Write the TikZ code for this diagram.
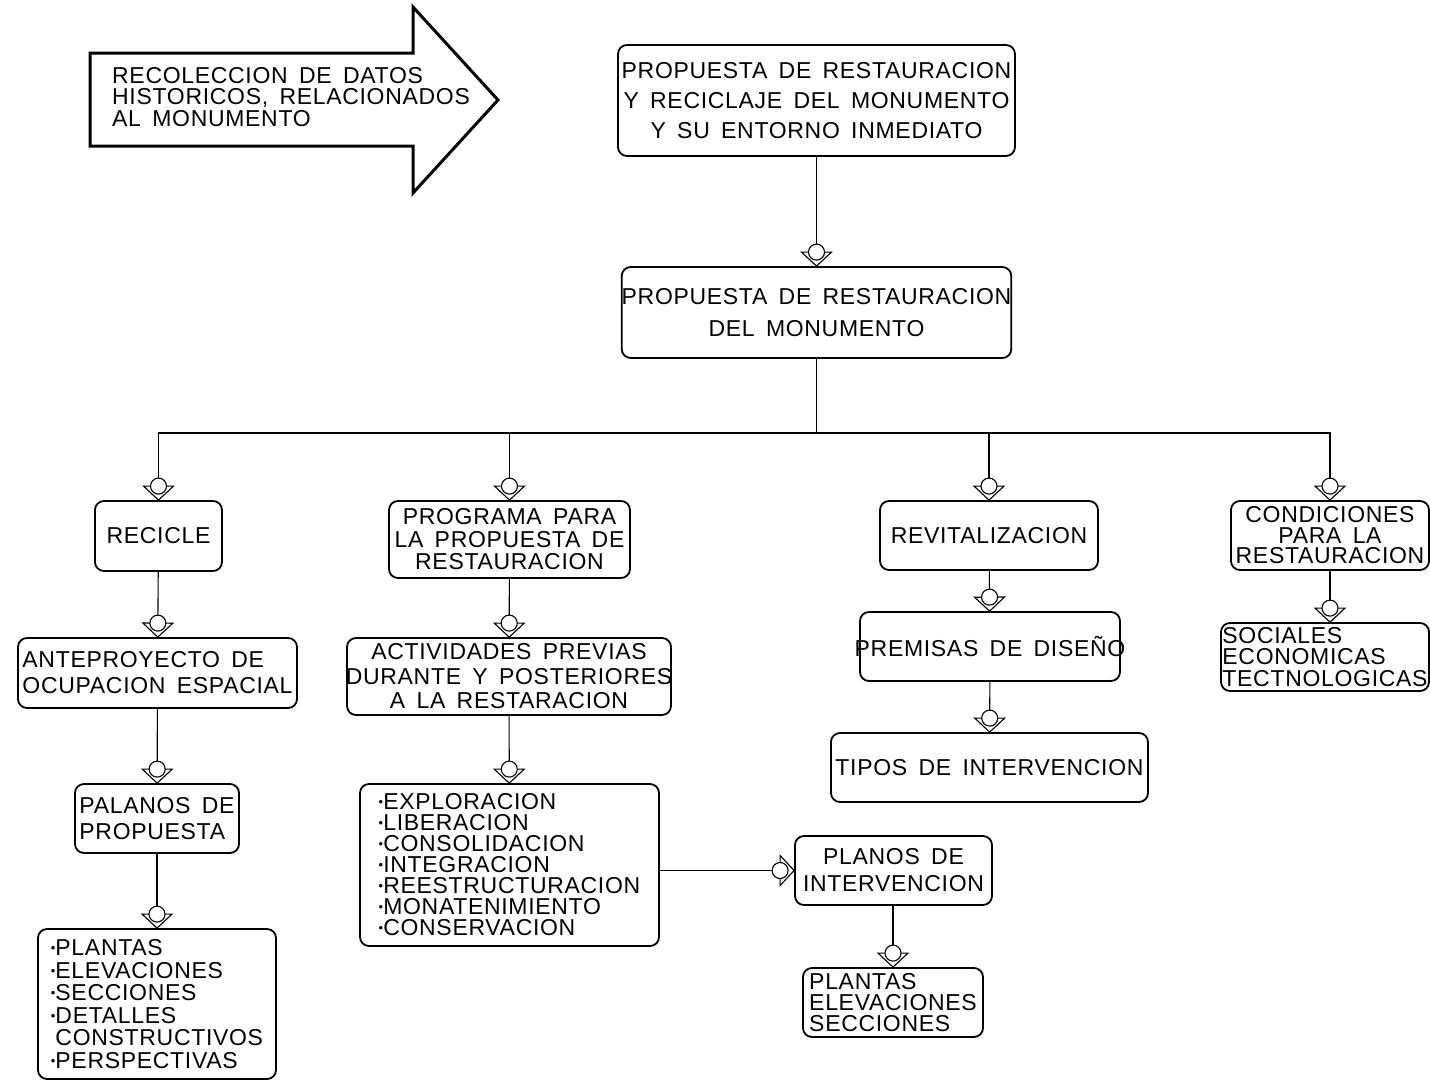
\documentclass[tikz,border=0pt]{standalone}
\usepackage{fontspec}
\setmainfont{Liberation Sans}[WordSpace=1.6,LetterSpace=3]
\newcommand{\vineta}{\raisebox{3pt}{\fontsize{13}{13}\selectfont\textbullet}}
\pgfdeclarearrow{
  name = cadtip,
  setup code = {
    \pgfarrowssettipend{0pt}
    \pgfarrowssetlineend{-22pt}
    \pgfarrowssetvisualbackend{-22pt}
    \pgfarrowssetbackend{-22pt}
    \pgfarrowsupperhullpoint{0pt}{0pt}
    \pgfarrowsupperhullpoint{-14pt}{15pt}
    \pgfarrowsupperhullpoint{-22pt}{8pt}
  },
  drawing code = {
    \pgfsetdash{}{0pt}
    \pgfsetmiterjoin
    \pgfpathmoveto{\pgfpointorigin}
    \pgfpathlineto{\pgfpoint{-14pt}{15pt}}
    \pgfpathlineto{\pgfpoint{-14pt}{-15pt}}
    \pgfpathclose
    \pgfusepathqstroke
    \pgfsetfillcolor{white}
    \pgfpathcircle{\pgfpoint{-14pt}{0pt}}{8pt}
    \pgfusepathqfillstroke
  }
}
\begin{document}
\begin{tikzpicture}[x=1pt,y=-1pt,
    caja/.style={draw, line width=1.8pt, rounded corners=9pt, inner sep=0pt, align=center},
    texto/.style={font=\fontsize{23}{#1}\selectfont},
    flecha/.style={line width=1.1pt, -cadtip}]
  \useasboundingbox (0,0) rectangle (1430,1080);

  % Flecha grande de datos
  \draw[line width=3pt, line join=miter] (90,53) -- (413,53) -- (413,7) -- (498,100)
    -- (413,193) -- (413,146) -- (90,146) -- cycle;
  \node[anchor=west, align=left, inner sep=0pt, texto=21.5] (datos) at (112,97)
    {RECOLECCION DE DATOS\\HISTORICOS, RELACIONADOS\\AL MONUMENTO};

  % Cajas
  \node[caja, texto=30, minimum width=397, minimum height=111] (propuesta) at (816.5,100.5)
    {PROPUESTA DE RESTAURACION\\Y RECICLAJE DEL MONUMENTO\\Y SU ENTORNO INMEDIATO};
  \node[caja, texto=32, minimum width=389, minimum height=91] (restaura) at (816.5,312.5)
    {PROPUESTA DE RESTAURACION\\DEL MONUMENTO};

  \node[caja, texto=26, minimum width=127, minimum height=70] (recicle) at (158.5,536) {RECICLE};
  \node[caja, texto=22.5, minimum width=241, minimum height=77] (programa) at (509.5,539.5)
    {PROGRAMA PARA\\LA PROPUESTA DE\\RESTAURACION};
  \node[caja, texto=26, minimum width=218, minimum height=69] (revital) at (989,535.5) {REVITALIZACION};
  \node[caja, texto=20.5, minimum width=198, minimum height=69] (condic) at (1330,535.5)
    {CONDICIONES\\PARA LA\\RESTAURACION};

  \node[caja, align=left, texto=26, minimum width=279, minimum height=70] (antepro) at (157.5,673)
    {ANTEPROYECTO DE\\OCUPACION ESPACIAL};
  \node[caja, texto=24.5, minimum width=324, minimum height=77, inner xsep=-2pt] (activ) at (509,676.5)
    {ACTIVIDADES PREVIAS\\DURANTE Y POSTERIORES\\A LA RESTARACION};
  \node[caja, texto=26, minimum width=260, minimum height=69, inner xsep=-6pt] (premisas) at (990,646.5)
    {PREMISAS DE DISEÑO};
  \node[caja, align=left, texto=21.5, minimum width=208, minimum height=68] (sociales) at (1325,657)
    {SOCIALES\\ECONOMICAS\\TECTNOLOGICAS};

  \node[caja, align=left, texto=26, minimum width=164, minimum height=69] (palanos) at (157,818.5)
    {PALANOS DE\\PROPUESTA};
  \node[caja, align=left, texto=21, minimum width=299, minimum height=162] (explor) at (509.5,865)
    {\vineta EXPLORACION\\\vineta LIBERACION\\\vineta CONSOLIDACION\\\vineta INTEGRACION\\
     \vineta REESTRUCTURACION\\\vineta MONATENIMIENTO\\\vineta CONSERVACION};
  \node[caja, texto=26, minimum width=317, minimum height=69] (tipos) at (989.5,767.5)
    {TIPOS DE INTERVENCION};
  \node[caja, texto=27, minimum width=197, minimum height=69] (planos) at (893.5,870.5)
    {PLANOS DE\\INTERVENCION};
  \node[caja, align=left, texto=21, minimum width=180, minimum height=69] (plantas) at (893,1002.5)
    {PLANTAS\\ELEVACIONES\\SECCIONES};
  \node[caja, align=left, texto=22.6, minimum width=238, minimum height=150] (vistas) at (157,1004)
    {\vineta PLANTAS\\\vineta ELEVACIONES\\\vineta SECCIONES\\\vineta DETALLES\\
     \phantom{\vineta}CONSTRUCTIVOS\\\vineta PERSPECTIVAS};

  % Conectores
  \coordinate (bus) at (816.5,433);
  \draw[flecha] (propuesta) -- (restaura);
  \draw[line width=1.1pt] (restaura) -- (bus);
  \draw[flecha] (bus) -| (recicle);
  \draw[flecha] (bus) -| (programa);
  \draw[flecha] (bus) -| (revital);
  \draw[flecha] (bus) -| (condic);

  \draw[flecha] (recicle) -- (antepro);
  \draw[flecha] (antepro) -- (palanos);
  \draw[flecha] (palanos) -- (vistas);
  \draw[flecha] (programa) -- (activ);
  \draw[flecha] (activ) -- (explor);
  \draw[flecha] (explor.east |- planos.west) -- (planos.west);
  \draw[flecha] (planos.south -| plantas.north) -- (plantas);
  \draw[flecha] (revital) -- (premisas);
  \draw[flecha] (premisas) -- (tipos);
  \draw[flecha] (condic.south) -- (condic.south |- sociales.north);
\end{tikzpicture}
\end{document}
